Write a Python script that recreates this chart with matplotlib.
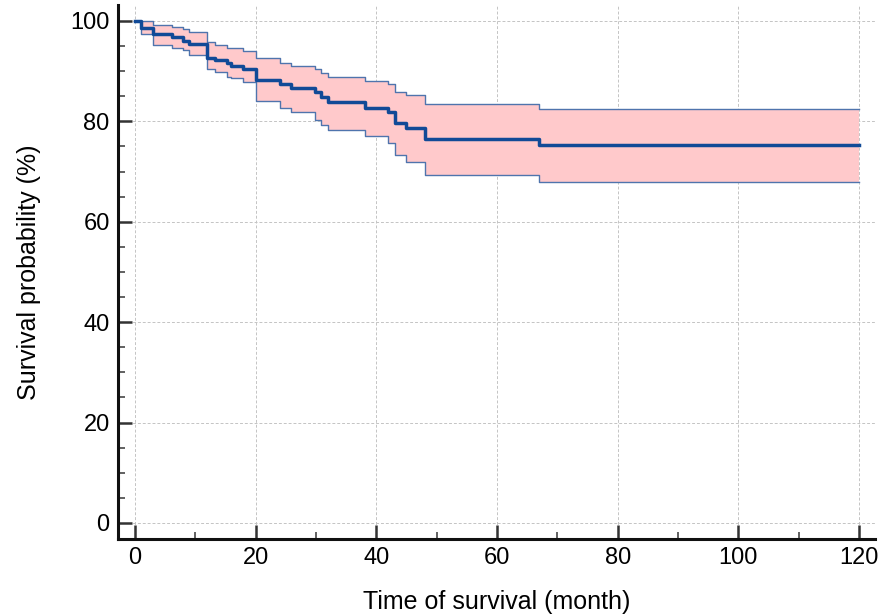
import matplotlib
matplotlib.use("Agg")
import matplotlib.pyplot as plt
from matplotlib.ticker import MultipleLocator

plt.rcParams['font.family'] = ['Liberation Sans', 'DejaVu Sans']

# Kaplan-Meier estimate (months, %)
time = [0, 1.0, 3.0, 6.1, 7.9, 8.9, 12.0, 13.3, 15.2, 16.0, 18.0, 20.0,
        24.0, 25.9, 29.8, 30.9, 32.0, 38.1, 42.0, 43.1, 45.0, 48.1, 67.0, 120]
surv = [100, 98.7, 97.4, 96.8, 96.1, 95.4, 92.7, 92.2, 91.6, 91.1, 90.4, 88.2,
        87.5, 86.7, 85.8, 84.9, 83.8, 82.6, 81.9, 79.6, 78.6, 76.4, 75.2, 75.2]
upper = [100, 100, 99.2, 98.9, 98.5, 97.9, 95.8, 95.2, 94.7, 94.7, 94.0, 92.6,
         91.7, 91.1, 90.4, 89.6, 88.9, 88.1, 87.5, 85.8, 85.2, 83.4, 82.5, 82.5]
lower = [100, 97.5, 95.2, 94.7, 94.2, 93.2, 90.4, 89.8, 88.8, 88.6, 87.9, 84.0,
         82.6, 81.9, 80.2, 79.3, 78.3, 77.1, 75.6, 73.3, 72.0, 69.3, 67.9, 67.9]

fig = plt.figure(figsize=(8.91, 6.16), dpi=100)
ax = fig.add_axes([0.1324, 0.125, 0.85, 0.867])

ax.fill_between(time, lower, upper, step='post', color='#ffc9cb', lw=0, zorder=2)
ax.step(time, upper, where='post', color='#4f74ad', lw=1.0, zorder=3)
ax.step(time, lower, where='post', color='#4f74ad', lw=1.0, zorder=3)
ax.step(time, surv, where='post', color='#114a97', lw=2.5, zorder=4)

ax.set_xlim(-2.8, 122.7)
ax.set_ylim(-3.2, 103.2)
ax.xaxis.set_major_locator(MultipleLocator(20))
ax.xaxis.set_minor_locator(MultipleLocator(10))
ax.yaxis.set_major_locator(MultipleLocator(20))
ax.yaxis.set_minor_locator(MultipleLocator(5))

ax.grid(True, which='major', color='#c4c4c4', linestyle=(0, (3, 2)), lw=0.7, zorder=1)

for s in ['top', 'right']:
    ax.spines[s].set_visible(False)
for s in ['left', 'bottom']:
    ax.spines[s].set_linewidth(2.2)
    ax.spines[s].set_color('#111111')

ax.tick_params(which='major', direction='in', length=10, width=1.8, color='#333333',
               labelsize=17, pad=6)
ax.tick_params(which='minor', direction='in', length=5, width=1.3, color='#555555')

ax.set_xlabel('Time of survival (month)', fontsize=18, labelpad=15)
ax.set_ylabel('Survival probability (%)', fontsize=18, labelpad=21)

fig.savefig('out.png', dpi=100)
